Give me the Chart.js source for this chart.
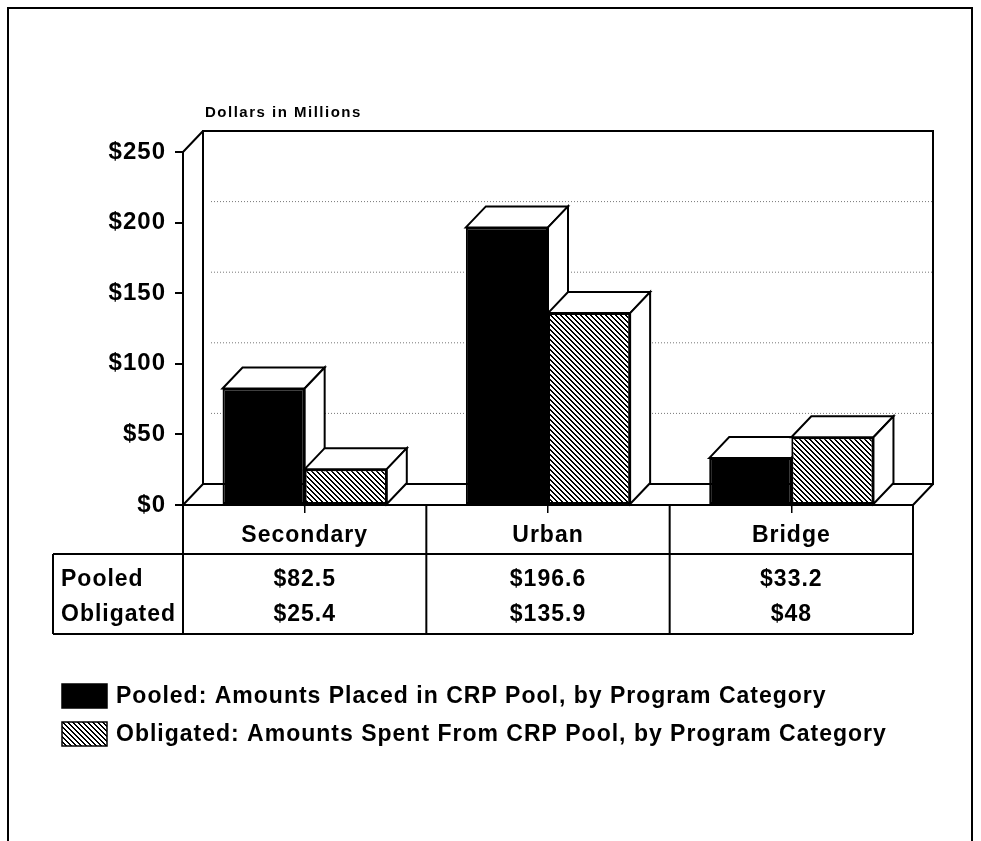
<!DOCTYPE html>
<html>
<head>
<meta charset="utf-8">
<script src="https://cdn.jsdelivr.net/npm/chart.js@4.4.1/dist/chart.umd.min.js"></script>
<style>
  html, body { margin: 0; padding: 0; background: #fff; }
  canvas { display: block; }
</style>
</head>
<body>
<canvas id="c" width="981" height="841"></canvas>
<script>
// ---- data ----
const categories = ['Secondary', 'Urban', 'Bridge'];
const seriesNames = ['Pooled', 'Obligated'];
const pooled = [82.5, 196.6, 33.2];
const obligated = [25.4, 135.9, 48];
const yTickValues = [0, 50, 100, 150, 200, 250];
const legendTexts = [
  'Pooled: Amounts Placed in CRP Pool, by Program Category',
  'Obligated: Amounts Spent From CRP Pool, by Program Category'
];
const unitLabel = 'Dollars in Millions';

const FONT = "'Liberation Sans', Arial, Helvetica, sans-serif";
const DX = 20, DY = 21;

function hatchPattern() {
  const s = 5, w = 2;
  const c = document.createElement('canvas');
  c.width = s; c.height = s;
  const g = c.getContext('2d');
  g.fillStyle = '#fff'; g.fillRect(0, 0, s, s);
  g.fillStyle = '#000';
  for (let j = 0; j < s; j++) {
    for (let i = 0; i < s; i++) {
      if ((((i - j) % s) + s) % s < w) g.fillRect(i, j, 1, 1);
    }
  }
  return g.createPattern(c, 'repeat');
}
const hatch = hatchPattern();
const fills = ['#000', hatch];

const fmt = v => '$' + v;

const threeD = {
  id: 'threeD',
  beforeDraw(chart) {
    chart.ctx.letterSpacing = '1px';
  },
  beforeDatasetsDraw(chart) {
    const ctx = chart.ctx, a = chart.chartArea, y = chart.scales.y;
    const top0 = y.getPixelForValue(yTickValues[yTickValues.length - 1]);
    const L = a.left, R = a.right, B = a.bottom;
    ctx.save();
    ctx.strokeStyle = '#777'; ctx.lineWidth = 1; ctx.setLineDash([1, 2]);
    yTickValues.slice(1, -1).forEach(v => {
      const py = y.getPixelForValue(v) - DY;
      ctx.beginPath(); ctx.moveTo(L + DX + 8, py); ctx.lineTo(R + DX, py); ctx.stroke();
    });
    ctx.setLineDash([]);
    ctx.strokeStyle = '#000'; ctx.lineWidth = 2;
    ctx.beginPath();
    ctx.rect(L + DX, top0 - DY, R - L, B - top0);
    ctx.moveTo(L, top0); ctx.lineTo(L + DX, top0 - DY);
    ctx.moveTo(L, B); ctx.lineTo(L + DX, B - DY);
    ctx.moveTo(R, B); ctx.lineTo(R + DX, B - DY);
    ctx.stroke();
    chart.data.datasets.forEach((ds, di) => {
      chart.getDatasetMeta(di).data.forEach(bar => {
        const l = bar.x - bar.width / 2, r = bar.x + bar.width / 2;
        const t = bar.y, b = bar.base;
        ctx.fillStyle = '#fff';
        ctx.beginPath();
        ctx.moveTo(l, t); ctx.lineTo(l + DX, t - DY); ctx.lineTo(r + DX, t - DY); ctx.lineTo(r, t); ctx.closePath();
        ctx.fill(); ctx.stroke();
        ctx.beginPath();
        ctx.moveTo(r, t); ctx.lineTo(r + DX, t - DY); ctx.lineTo(r + DX, b - DY); ctx.lineTo(r, b); ctx.closePath();
        ctx.fill(); ctx.stroke();
      });
    });
    ctx.restore();
  },
  afterDraw(chart) {
    const ctx = chart.ctx, a = chart.chartArea, x = chart.scales.x;
    const cw = (a.right - a.left) / categories.length;
    const tableLeft = 53, rowTop = 554, tableBottom = 634;
    ctx.save();
    ctx.strokeStyle = '#000'; ctx.lineWidth = 2;
    ctx.beginPath();
    for (let i = 0; i <= categories.length; i++) {
      const px = a.left + i * cw;
      ctx.moveTo(px, a.bottom); ctx.lineTo(px, tableBottom);
    }
    ctx.moveTo(tableLeft, rowTop); ctx.lineTo(a.right, rowTop);
    ctx.moveTo(tableLeft, tableBottom); ctx.lineTo(a.right, tableBottom);
    ctx.moveTo(tableLeft, rowTop); ctx.lineTo(tableLeft, tableBottom);
    ctx.stroke();
    ctx.fillStyle = '#000';
    ctx.font = 'bold 23px ' + FONT;
    ctx.letterSpacing = '1px';
    ctx.textBaseline = 'middle';
    const rows = [pooled, obligated];
    const rowY = [580, 615];
    rows.forEach((vals, ri) => {
      ctx.textAlign = 'left';
      ctx.fillText(seriesNames[ri], 61, rowY[ri]);
      ctx.textAlign = 'center';
      vals.forEach((v, ci) => ctx.fillText(fmt(v), x.getPixelForValue(ci), rowY[ri]));
    });
    ctx.font = 'bold 15px ' + FONT;
    ctx.letterSpacing = '1.5px';
    ctx.textAlign = 'left';
    ctx.fillText(unitLabel, 205, 113);
    const ly = [696, 734];
    ctx.font = 'bold 23px ' + FONT;
    ctx.letterSpacing = '1px';
    legendTexts.forEach((t, i) => {
      ctx.fillStyle = fills[i];
      ctx.fillRect(62, ly[i] - 12, 45, 24);
      ctx.strokeStyle = '#000'; ctx.lineWidth = 1.5;
      ctx.strokeRect(62, ly[i] - 12, 45, 24);
      ctx.fillStyle = '#000';
      ctx.fillText(t, 116, ly[i] + 1);
    });
    ctx.lineWidth = 2;
    ctx.strokeRect(8, 8, 964, 860);
    ctx.restore();
  }
};

new Chart(document.getElementById('c'), {
  type: 'bar',
  data: {
    labels: categories,
    datasets: [
      { label: seriesNames[0], data: pooled, backgroundColor: fills[0], borderColor: '#000', borderWidth: 2, borderSkipped: false },
      { label: seriesNames[1], data: obligated, backgroundColor: fills[1], borderColor: '#000', borderWidth: 2, borderSkipped: false }
    ]
  },
  options: {
    responsive: false,
    animation: false,
    datasets: { bar: { categoryPercentage: 0.675, barPercentage: 1 } },
    layout: { padding: { top: 152, right: 68, left: 0, bottom: 0 } },
    plugins: { legend: { display: false }, tooltip: { enabled: false } },
    scales: {
      x: {
        offset: true,
        grid: { display: true, offset: false, drawOnChartArea: false, drawTicks: true, tickLength: 8, color: '#000', lineWidth: 1.5 },
        border: { display: true, color: '#000', width: 2 },
        ticks: { color: '#000', font: { family: FONT, size: 23, weight: 'bold' }, padding: 9 },
        afterFit(s) { s.height = 841 - 505; }
      },
      y: {
        min: 0, max: 250,
        afterBuildTicks(s) { s.ticks = yTickValues.map(v => ({ value: v })); },
        grid: { display: true, drawOnChartArea: false, drawTicks: true, tickLength: 8, color: '#000', lineWidth: 2 },
        border: { display: true, color: '#000', width: 2 },
        ticks: { color: '#000', font: { family: FONT, size: 24, weight: 'bold' }, padding: 9, callback: v => fmt(v) },
        afterFit(s) { s.width = 183; }
      }
    }
  },
  plugins: [threeD]
});
</script>
</body>
</html>
